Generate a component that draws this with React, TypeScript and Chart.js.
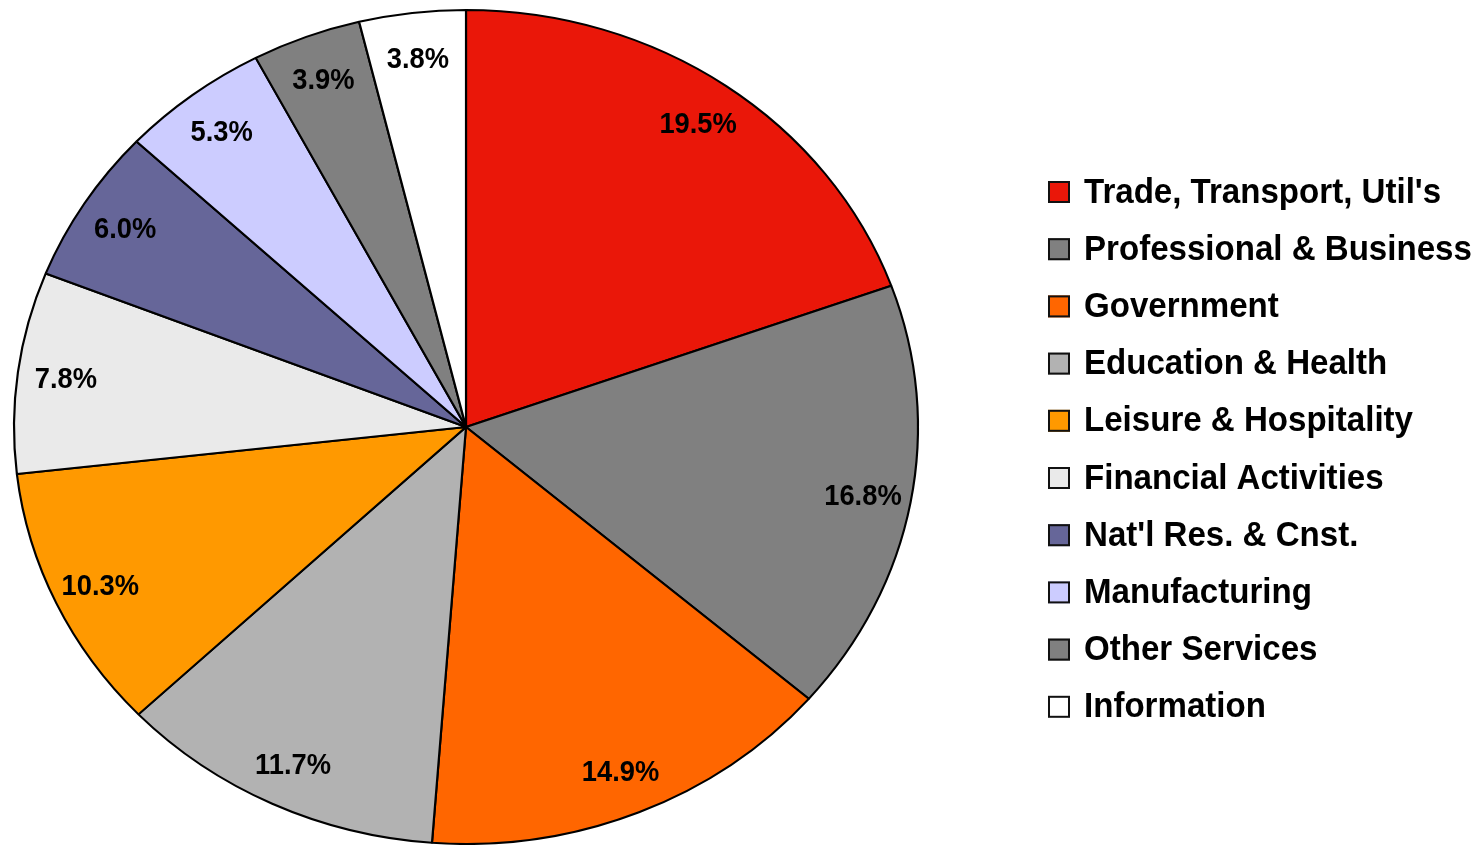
import React, { useEffect, useRef } from 'react';
import { Chart, registerables } from 'chart.js';

Chart.register(...registerables);

const categories = [
  "Trade, Transport, Util's",
  'Professional & Business',
  'Government',
  'Education & Health',
  'Leisure & Hospitality',
  'Financial Activities',
  "Nat'l Res. & Cnst.",
  'Manufacturing',
  'Other Services',
  'Information',
];
const shares = [19.5, 16.8, 14.9, 11.7, 10.3, 7.8, 6.0, 5.3, 3.9, 3.8];
const colors = [
  '#EA1709',
  '#808080',
  '#FF6600',
  '#B2B2B2',
  '#FF9900',
  '#EAEAEA',
  '#666699',
  '#CCCCFF',
  '#808080',
  '#FFFFFF',
];

const W = 1480;
const H = 845;
const RY = 417;
const RX = 452;
const SX = RX / RY;
const FONT = '"Liberation Sans", Arial, sans-serif';

const ellipsePlugin = {
  id: 'ellipse',
  beforeDatasetsDraw(chart: any) {
    const arc = chart.getDatasetMeta(0).data[0];
    const ctx = chart.ctx;
    ctx.save();
    ctx.translate(arc.x, arc.y);
    ctx.scale(SX, 1);
    ctx.translate(-arc.x, -arc.y);
  },
  afterDatasetsDraw(chart: any) {
    chart.ctx.restore();
  },
};

const labelPlugin = {
  id: 'sliceLabels',
  afterDraw(chart: any) {
    const ctx = chart.ctx;
    const meta = chart.getDatasetMeta(0);
    const values = chart.data.datasets[0].data;
    meta.data.forEach((arc: any, i: number) => {
      const mid = (arc.startAngle + arc.endAngle) / 2;
      const r = arc.outerRadius * 0.893;
      const x = arc.x + Math.cos(mid) * r * SX;
      const y = arc.y + Math.sin(mid) * r;
      ctx.save();
      ctx.translate(x, y);
      ctx.scale(0.91, 1);
      ctx.font = `bold 30px ${FONT}`;
      ctx.fillStyle = '#000';
      ctx.textAlign = 'center';
      ctx.textBaseline = 'middle';
      ctx.fillText(`${Number(values[i]).toFixed(1)}%`, 0, 2);
      ctx.restore();
    });
  },
};

const legendPlugin = {
  id: 'sideLegend',
  afterDraw(chart: any) {
    const ctx = chart.ctx;
    const labels = chart.data.labels;
    const bg = chart.data.datasets[0].backgroundColor;
    labels.forEach((lab: string, i: number) => {
      const cy = 192 + i * 57.2;
      ctx.save();
      ctx.fillStyle = bg[i];
      ctx.fillRect(1048, cy - 11, 22, 22);
      ctx.strokeStyle = '#111';
      ctx.lineWidth = 2;
      ctx.strokeRect(1049, cy - 10, 20, 20);
      ctx.translate(1084, cy);
      ctx.scale(0.945, 1);
      ctx.font = `bold 35px ${FONT}`;
      ctx.fillStyle = '#000';
      ctx.textAlign = 'left';
      ctx.textBaseline = 'middle';
      ctx.fillText(lab, 0, 1);
      ctx.restore();
    });
  },
};

export default function App() {
  const ref = useRef<HTMLCanvasElement | null>(null);

  useEffect(() => {
    if (!ref.current) return;
    const chart = new Chart(ref.current, {
      type: 'pie',
      data: {
        labels: categories,
        datasets: [
          {
            data: shares,
            backgroundColor: colors,
            borderColor: '#000',
            borderWidth: 2,
            radius: RY,
          } as any,
        ],
      },
      options: {
        responsive: false,
        animation: false,
        devicePixelRatio: 1,
        layout: { padding: { left: 49, right: 597, top: 10, bottom: 1 } },
        plugins: {
          legend: { display: false },
          tooltip: { enabled: false },
        },
      } as any,
      plugins: [ellipsePlugin, labelPlugin, legendPlugin],
    });
    return () => chart.destroy();
  }, []);

  return (
    <div style={{ position: 'fixed', left: 0, top: 0, width: W, height: H, background: '#fff' }}>
      <canvas ref={ref} width={W} height={H} style={{ width: W, height: H, display: 'block' }} />
    </div>
  );
}
